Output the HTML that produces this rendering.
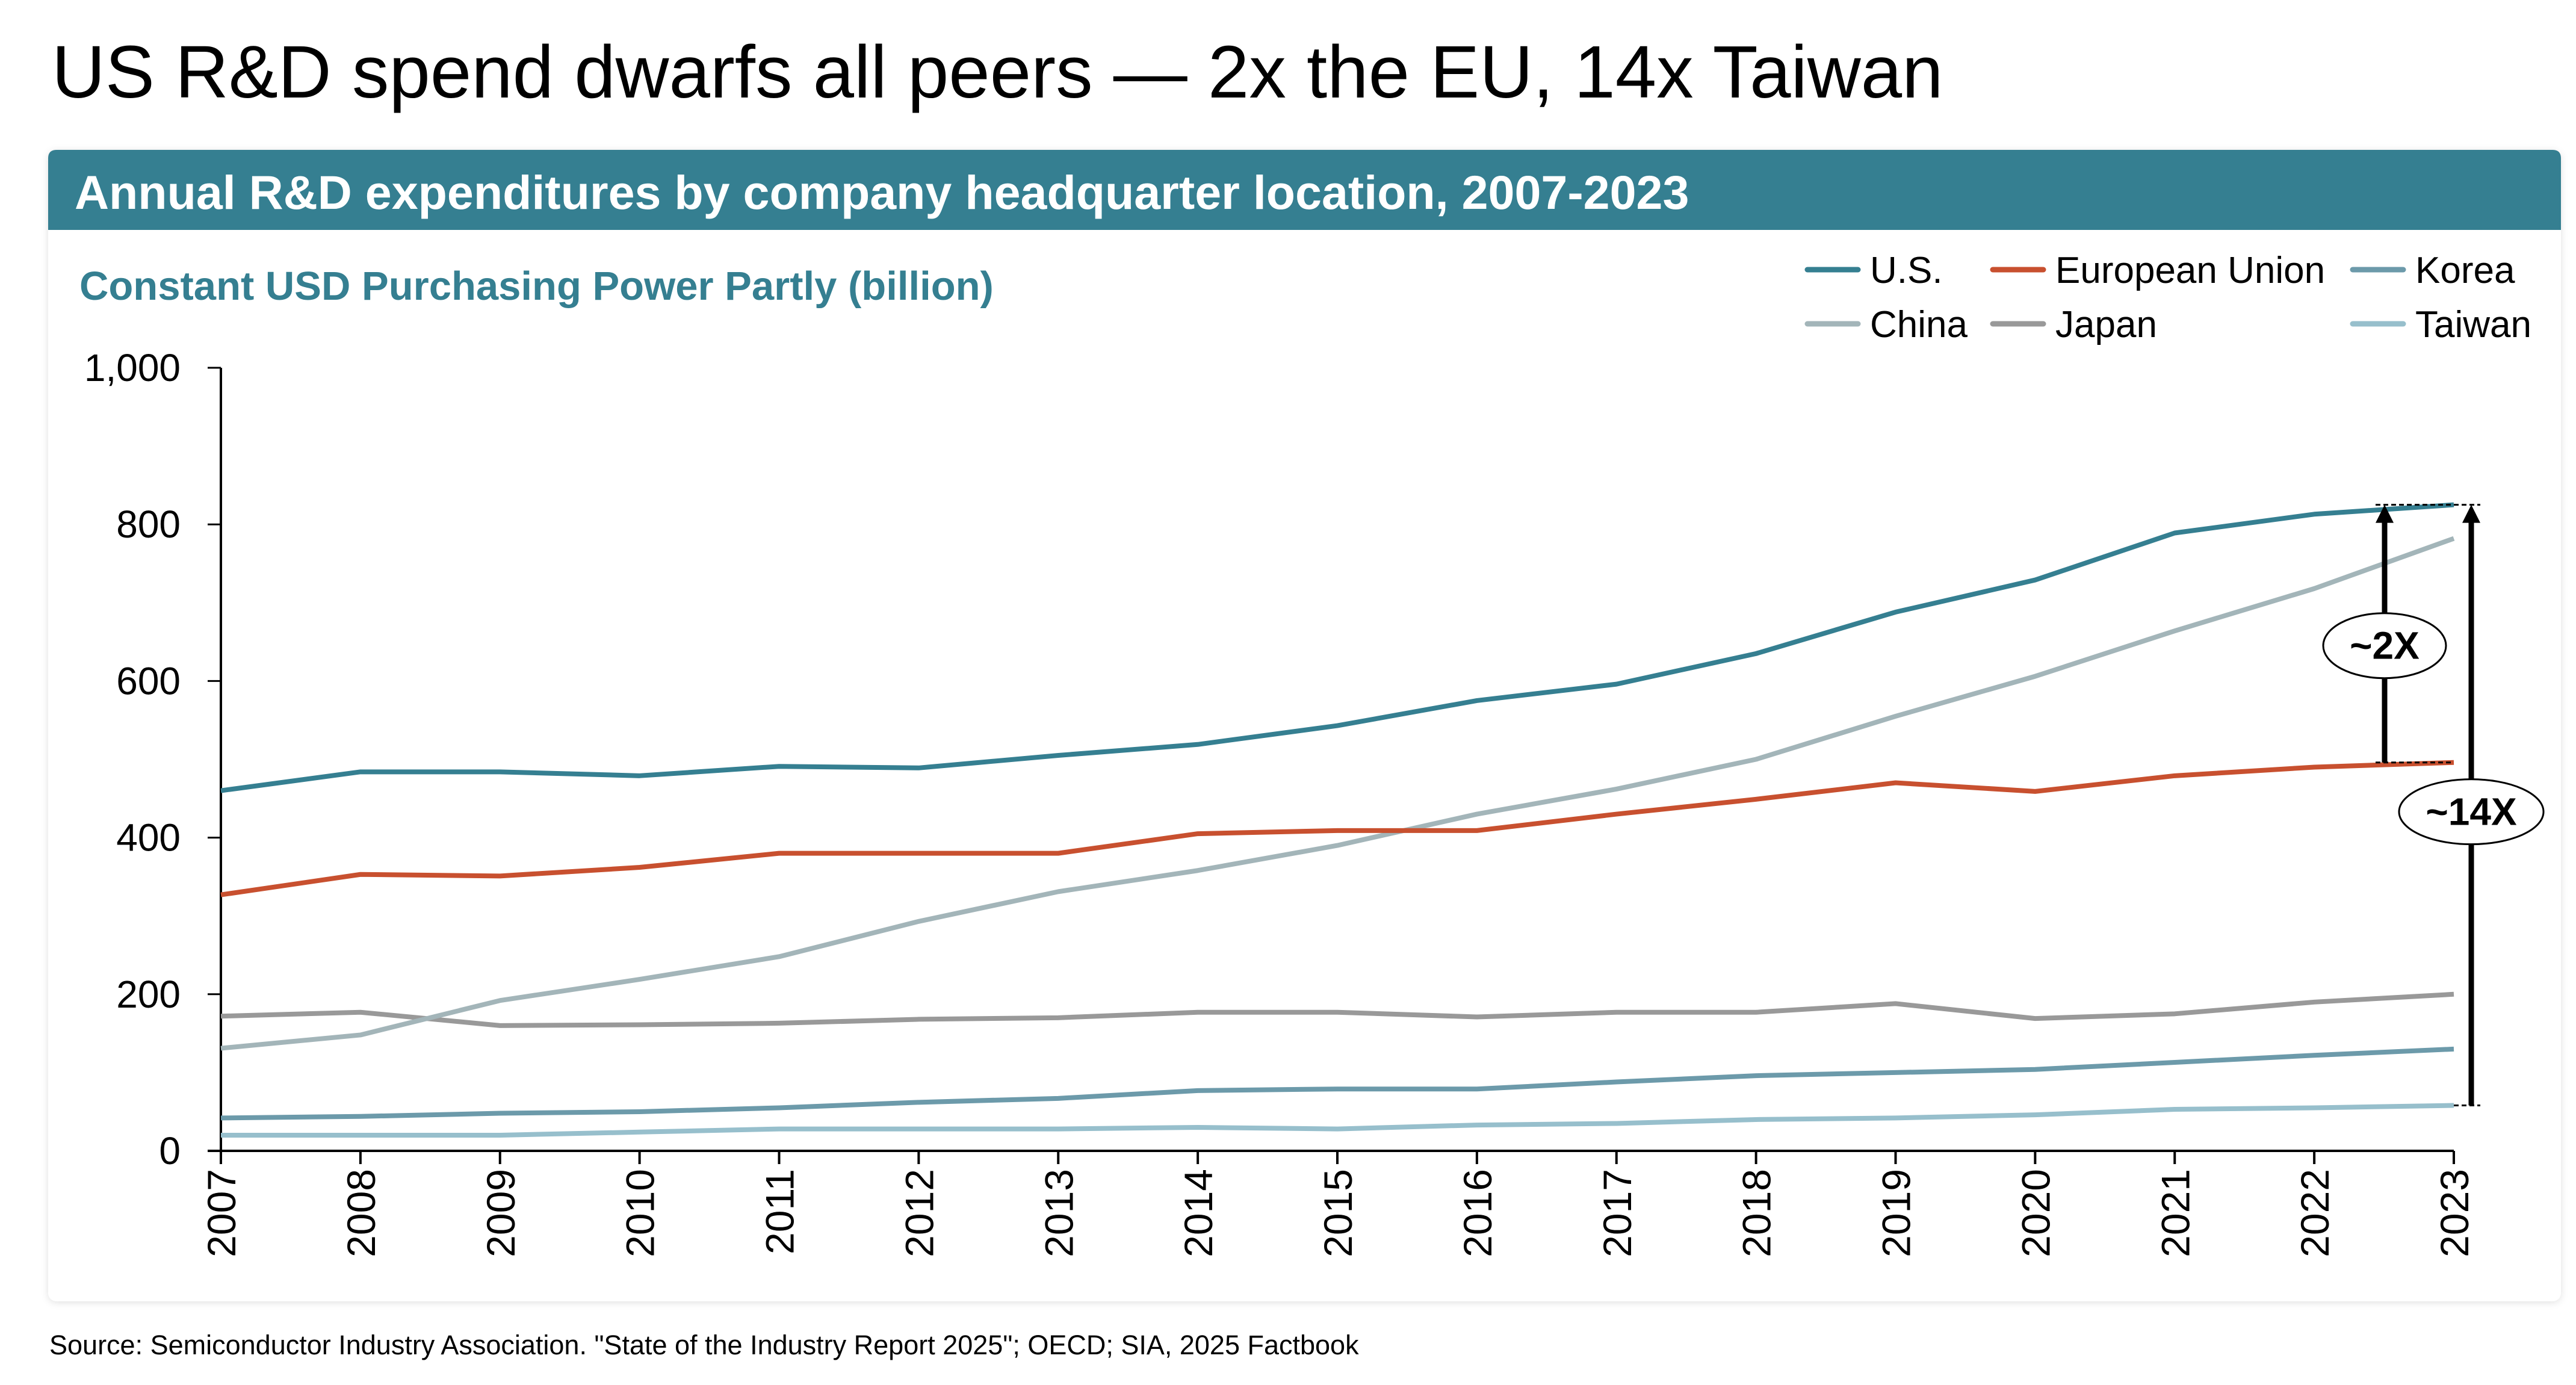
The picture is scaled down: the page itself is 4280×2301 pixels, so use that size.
<!DOCTYPE html>
<html><head><meta charset="utf-8"><style>
html,body{margin:0;padding:0;background:#fff;}
body{width:4280px;height:2296px;position:relative;overflow:hidden;font-family:"Liberation Sans",sans-serif;}
</style></head><body>
<svg width="4280" height="2296" viewBox="0 0 4280 2296" xmlns="http://www.w3.org/2000/svg" font-family="Liberation Sans, sans-serif">
<defs><filter id="sh" x="-2%" y="-2%" width="104%" height="104%"><feDropShadow dx="0" dy="2" stdDeviation="6" flood-color="#000" flood-opacity="0.12"/></filter></defs>
<text x="86" y="162" font-size="123" fill="#000">US R&amp;D spend dwarfs all peers — 2x the EU, 14x Taiwan</text>
<rect x="80" y="249" width="4175" height="1913" rx="14" fill="#fff" filter="url(#sh)"/>
<path d="M80,382 V263 Q80,249 94,249 H4241 Q4255,249 4255,263 V382 Z" fill="#357f91"/>
<text x="124" y="347" font-size="79" font-weight="bold" fill="#fff">Annual R&amp;D expenditures by company headquarter location, 2007-2023</text>
<text x="132" y="498" font-size="67" font-weight="bold" fill="#357f91">Constant USD Purchasing Power Partly (billion)</text>
<g id="legend"></g>
<g id="axes"></g>
<g id="series"></g>
<g id="annot"></g>
<text x="82" y="2250" font-size="45" fill="#000">Source: Semiconductor Industry Association. "State of the Industry Report 2025"; OECD; SIA, 2025 Factbook</text>
</svg>
<script>
const years = [2007,2008,2009,2010,2011,2012,2013,2014,2015,2016,2017,2018,2019,2020,2021,2022,2023];
const yTicks = [0,200,400,600,800,1000];
const yTickLabels = ["0","200","400","600","800","1,000"];
const usVals = [460,484,484,479,491,489,505,519,543,575,596,635,688,729,789,813,825];
const euVals = [327,353,351,362,380,380,380,405,409,409,430,449,470,459,479,490,496];
const chinaVals = [131,148,192,219,248,293,331,358,390,430,462,500,555,606,664,718,782];
const japanVals = [172,177,160,161,163,168,170,177,177,171,177,177,188,169,175,190,200];
const koreaVals = [42,44,48,50,55,62,67,77,79,79,88,96,100,104,113,122,130];
const taiwanVals = [20,20,20,24,28,28,28,30,28,33,35,40,42,46,53,55,58];
const seriesNames = ["U.S.","European Union","Korea","China","Japan","Taiwan"];
const ratio2x = ["~2X"];
const ratio14x = ["~14X"];

const NS="http://www.w3.org/2000/svg";
const X0=367,X1=4077,Y0=1912,Y1=611;
const xs=y=>X0+(y-years[0])/(years[years.length-1]-years[0])*(X1-X0);
const ys=v=>Y0-v/1000*(Y0-Y1);
function mk(tag,attrs,parent){const e=document.createElementNS(NS,tag);for(const k in attrs)e.setAttribute(k,attrs[k]);parent.appendChild(e);return e;}
const axes=document.getElementById('axes');
let e=mk('line',{x1:X0,y1:Y1,x2:X0,y2:Y0,stroke:'#000','stroke-width':4},axes);


e=mk('line',{x1:X0-22,y1:Y0,x2:X1,y2:Y0,stroke:'#000','stroke-width':4},axes);


yTicks.forEach((t,i)=>{
  const y=ys(t);
  let l=mk('line',{x1:X0-22,y1:y,x2:X0,y2:y,stroke:'#000','stroke-width':3},axes);
  
  
  let tx=mk('text',{x:300,y:y+22,'font-size':64,'text-anchor':'end',fill:'#000'},axes);
  tx.textContent=yTickLabels[i];
  
  
});
years.forEach(yr=>{
  const x=xs(yr);
  let l=mk('line',{x1:x,y1:Y0,x2:x,y2:Y0+22,stroke:'#000','stroke-width':4},axes);
  
  
  let tx=mk('text',{x:0,y:0,'font-size':66,'text-anchor':'end',fill:'#000',transform:`translate(${x+24},${Y0+30}) rotate(-90)`},axes);
  tx.textContent=String(yr);
  
  
});
const ser=document.getElementById('series');
const defs=[["us",usVals,"#357f91"],["eu",euVals,"#c8502f"],["china",chinaVals,"#a3b5b9"],["japan",japanVals,"#999999"],["korea",koreaVals,"#6c9aaa"],["taiwan",taiwanVals,"#97bfcc"]];
const order=["taiwan","korea","japan","china","eu","us"];
order.forEach(id=>{
  const d=defs.find(s=>s[0]===id);
  const pts=d[1].map((v,i)=>xs(years[i])+','+ys(v)).join(' ');
  const p=mk('polyline',{points:pts,fill:'none',stroke:d[2],'stroke-width':8,'stroke-linejoin':'round'},ser);
  
  
});
const lg=document.getElementById('legend');
const legPos=[[3003,448,"#357f91"],[3311,448,"#c8502f"],[3909,448,"#6c9aaa"],[3003,538,"#a3b5b9"],[3311,538,"#999999"],[3909,538,"#97bfcc"]];
seriesNames.forEach((n,i)=>{
  const [x,y,c]=legPos[i];
  let l=mk('line',{x1:x,y1:y,x2:x+84,y2:y,stroke:c,'stroke-width':9,'stroke-linecap':'round'},lg);
  
  
  let t=mk('text',{x:x+104,y:y+22,'font-size':62,fill:'#000'},lg);
  t.textContent=n;
  
  
});
const an=document.getElementById('annot');
const last=years.length-1;
const usTop=ys(usVals[last]), euTop=ys(euVals[last]), twTop=ys(taiwanVals[last]);
const ax2=3962, ax14=4106;
[[ax2-15,X1,usTop],[ax2-15,X1,euTop],[X1,ax14+15,twTop],[X1,ax14+15,usTop]].forEach(a=>{
  let l=mk('line',{x1:a[0],y1:a[2],x2:a[1],y2:a[2],stroke:'#000','stroke-width':3,'stroke-dasharray':'8,5'},an);
  
  
});
function arrow(x,yb,yt,label,rx,ry,cy,name){
  let l=mk('line',{x1:x,y1:yb,x2:x,y2:yt+28,stroke:'#000','stroke-width':9},an);
  
  
  let h=mk('polygon',{points:`${x},${yt} ${x-15},${yt+30} ${x+15},${yt+30}`,fill:'#000'},an);
  
  
  let el=mk('ellipse',{cx:x,cy:cy,rx:rx,ry:ry,fill:'#fff',stroke:'#000','stroke-width':3},an);
  
  
  let t=mk('text',{x:x,y:cy+22,'font-size':64,'font-weight':'bold','text-anchor':'middle',fill:'#000'},an);
  t.textContent=label;
  
  
}
arrow(ax2,euTop,usTop,ratio2x[0],102,54,(euTop+usTop)/2+20,'ratio-2x');
arrow(ax14,twTop,usTop,ratio14x[0],120,54,ys(433),'ratio-14x');
</script>
</body></html>
